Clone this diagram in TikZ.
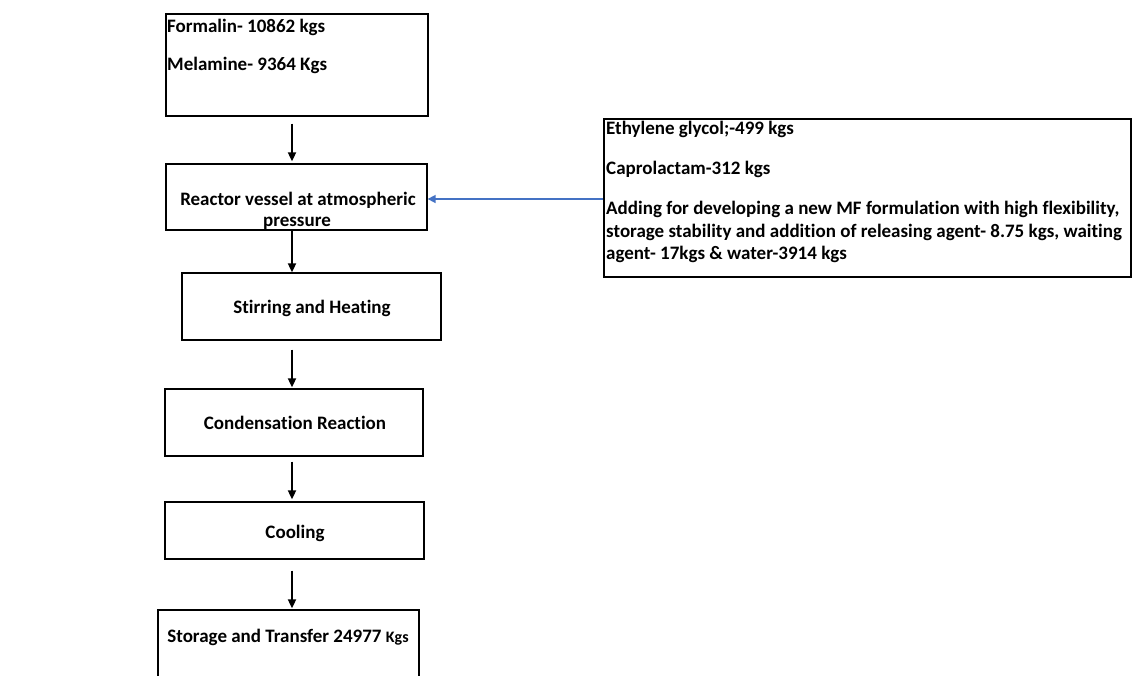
\documentclass[tikz,border=0pt]{standalone}
\usepackage{fontspec}
\setmainfont{Carlito}[Ligatures=NoCommon]
\usetikzlibrary{arrows.meta}
\definecolor{arrblue}{HTML}{4472C4}
\begin{document}
\begin{tikzpicture}[x=1pt,y=-1pt,
  every node/.style={font=\fontsize{19}{22.5}\selectfont\bfseries, inner sep=0pt},
  box/.style={draw=black, line width=1.3pt, rectangle},
  arr/.style={draw=black, line width=1.8pt, -{Triangle[length=9pt,width=8pt]}},
  barr/.style={draw=arrblue, line width=1.6pt, -{Triangle[length=8pt,width=8pt]}}]
\clip (0,0) rectangle (1133,675);
\fill[white] (0,0) rectangle (1133,675);
% boxes
\node[box, minimum width=262pt, minimum height=102pt] (b1) at (297,65) {};
\node[anchor=west] (t1a) at (167,27) {Formalin- 10862 kgs};
\node[anchor=west] (t1b) at (167,65) {Melamine- 9364 Kgs};
\node[box, minimum width=261pt, minimum height=66pt] (b2) at (296.5,197) {};
\node (t2a) at (298,200) {Reactor vessel at atmospheric};
\node (t2b) at (297,223) {pressure};
\node[box, minimum width=259pt, minimum height=67pt] (b3) at (311.5,306.5) {};
\node (t3) at (312,308) {Stirring and Heating};
\node[box, minimum width=258pt, minimum height=67pt] (b4) at (294,422.5) {};
\node (t4) at (295,423) {Condensation Reaction};
\node[box, minimum width=259pt, minimum height=57pt] (b5) at (294.5,530.5) {};
\node (t5) at (295,533) {Cooling};
\node[box, minimum width=261pt, minimum height=100pt] (b6) at (288.5,660) {};
\node (t6) at (288,637) {Storage and Transfer 24977 \fontsize{16}{18}\selectfont Kgs};
\node[box, minimum width=527pt, minimum height=158pt] (rb) at (867.5,198) {};
\node[anchor=west] (r1) at (606,129) {Ethylene glycol;-499 kgs};
\node[anchor=west] (r2) at (606,169) {Caprolactam-312 kgs};
\node[anchor=north west, align=left] (r3) at (606,201) {Adding for developing a new MF formulation with high flexibility,\\storage stability and addition of releasing agent- 8.75 kgs, waiting\\agent- 17kgs \& water-3914 kgs};
% arrows
\coordinate (ax) at (292,0);
\coordinate (ay) at (0,199);
\draw[arr, shorten <=7pt, shorten >=2pt] (b1.south -| ax) -- (b2.north -| ax);
\draw[arr] (b2.south -| ax) -- (b3.north -| ax);
\draw[arr, shorten <=9pt, shorten >=1pt] (b3.south -| ax) -- (b4.north -| ax);
\draw[arr, shorten <=5pt, shorten >=2pt] (b4.south -| ax) -- (b5.north -| ax);
\draw[arr, shorten <=11pt, shorten >=1pt] (b5.south -| ax) -- (b6.north -| ax);
\draw[barr] (rb.west |- ay) -- (b2.east |- ay);
\end{tikzpicture}
\end{document}
